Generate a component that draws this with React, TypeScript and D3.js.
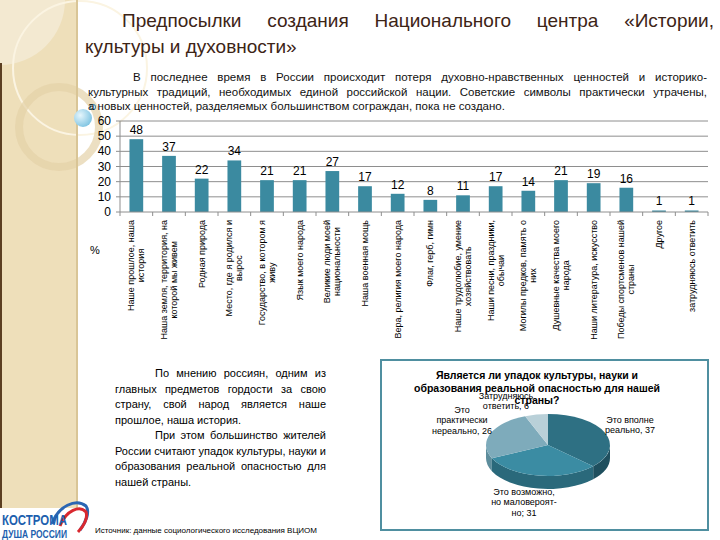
import React, { useLayoutEffect, useRef } from "react";
import * as d3 from "d3";

const categories = [
  "Наше прошлое, наша|история",
  "Наша земля, территория, на|которой мы живем",
  "Родная природа",
  "Место, где я родился и|вырос",
  "Государство, в котором я|живу",
  "Язык моего народа",
  "Великие люди моей|национальности",
  "Наша военная мощь",
  "Вера, религия  моего народа",
  "Флаг, герб, гимн",
  "Наше трудолюбие, умение|хозяйствовать",
  "Наши песни, праздники,|обычаи",
  "Могилы предков, память о|них",
  "Душевные качества моего|народа",
  "Наши литература, искусство",
  "Победы спортсменов нашей|страны",
  "Другое",
  "затрудняюсь ответить",
];
const values = [48, 37, 22, 34, 21, 21, 27, 17, 12, 8, 11, 17, 14, 21, 19, 16, 1, 1];
const yTicks = [0, 10, 20, 30, 40, 50, 60];

const pieLabels = [
  "Это вполне|реально, 37",
  "Это возможно,|но маловероят-|но;  31",
  "Это|практически|нереально, 26",
  "Затрудняюсь|ответить, 6",
];
const pieValues = [37, 31, 26, 6];
const pieTitle = [
  "Является ли упадок культуры, науки и",
  "образования  реальной опасностью для нашей",
  "страны?",
];

const titleLines = ["Предпосылки создания Национального центра «Истории,", "культуры и духовности»"];
const introLines = [
  "В последнее время в России происходит потеря духовно-нравственных ценностей и историко-",
  "культурных традиций, необходимых единой российской нации. Советские символы практически утрачены,",
  "а новых ценностей, разделяемых большинством сограждан, пока не создано.",
];
const noteLines = [
  "По мнению россиян, одним из",
  "главных предметов гордости за свою",
  "страну, свой народ является наше",
  "прошлое, наша история.",
  "При этом большинство жителей",
  "России считают упадок культуры, науки и",
  "образования реальной опасностью для",
  "нашей страны.",
];
const sourceText = "Источник: данные социологического исследования ВЦИОМ";

const FONT = "'Liberation Sans', Arial, sans-serif";

export default function App() {
  const ref = useRef<SVGSVGElement>(null);

  const x = d3.scaleBand<string>().domain(categories).range([120, 708]).paddingInner(0.58).paddingOuter(0.29);
  const y = d3.scaleLinear().domain([0, 60]).range([212, 121]);
  const step = x.step();

  useLayoutEffect(() => {
    const svg = d3.select(ref.current);
    svg.selectAll<SVGTextElement, unknown>("text[data-w]").each(function () {
      const el = this;
      const target = +(el.getAttribute("data-w") || 0);
      const txt = el.textContent || "";
      const spaces = (txt.match(/ /g) || []).length;
      const w = el.getComputedTextLength();
      if (spaces > 0) el.setAttribute("word-spacing", String((target - w) / spaces));
    });
    svg.selectAll<SVGGElement, unknown>("g.catlabel").each(function () {
      const texts = Array.from(this.querySelectorAll("text")) as SVGTextElement[];
      const maxW = d3.max(texts, (t) => t.getComputedTextLength()) || 0;
      texts.forEach((t) => {
        t.setAttribute("text-anchor", "middle");
        t.setAttribute("x", String(-(220 + maxW / 2)));
      });
    });
  }, []);

  const cx = 548, cy = 445, rx = 62, ry = 31, depth = 13;
  const arcs = d3.pie<number>().sort(null)(pieValues);
  const pt = (a: number, dy = 0) => [cx + rx * Math.sin(a), cy - ry * Math.cos(a) + dy];
  const topColors = ["#2e7083", "#3b8ca3", "#7eabbb", "#b9d0d8"];
  const sideColors = ["#1f4f5e", "#2a697b", "#5d8d9c", "#8fb0bb"];
  const topPath = (a0: number, a1: number) => {
    const [x0, y0] = pt(a0);
    const [x1, y1] = pt(a1);
    const large = a1 - a0 > Math.PI ? 1 : 0;
    return `M${cx},${cy}L${x0},${y0}A${rx},${ry} 0 ${large} 1 ${x1},${y1}Z`;
  };
  const sidePath = (a0: number, a1: number) => {
    const s = Math.max(a0, Math.PI / 2);
    const e = Math.min(a1, (3 * Math.PI) / 2);
    if (e <= s) return null;
    const [x0, y0] = pt(s);
    const [x1, y1] = pt(e);
    const [x2, y2] = pt(e, depth);
    const [x3, y3] = pt(s, depth);
    return `M${x0},${y0}A${rx},${ry} 0 0 1 ${x1},${y1}L${x2},${y2}A${rx},${ry} 0 0 0 ${x3},${y3}Z`;
  };
  const pieLabelPos = [
    [630, 425],
    [524, 502],
    [462, 420],
    [506, 401],
  ];

  return (
    <svg ref={ref} width={720} height={540} style={{ position: "absolute", left: 0, top: 0, background: "#fff" }} fontFamily={FONT}>
      <defs>
        <radialGradient id="bub" cx="0.35" cy="0.35" r="0.7">
          <stop offset="0" stopColor="#e6f6fc" />
          <stop offset="1" stopColor="#7fc4e2" />
        </radialGradient>
      </defs>
      <rect x={0} y={0} width={78} height={508} fill="#eedfba" />
      <circle cx={0} cy={0} r={65} fill="#f3e9d1" />
      <circle cx={80} cy={68} r={67} fill="none" stroke="#fbf4e2" strokeWidth={2} />
      <circle cx={59} cy={127} r={40} fill="none" stroke="#e4d2a8" strokeWidth={8} opacity={0.7} />
      <rect x={0} y={63} width={2} height={445} fill="#5b3f22" />
      <rect x={76} y={0} width={2} height={508} fill="#d9c596" />
      <circle cx={83} cy={118} r={9} fill="url(#bub)" />
      <circle cx={93} cy={107} r={2.5} fill="#fff" stroke="#4a8ca0" strokeWidth={1.2} />

      <text x={122} y={27} fontSize={19} fill="#3d2416" data-w={592}>{titleLines[0]}</text>
      <text x={85} y={53} fontSize={19} fill="#3d2416">{titleLines[1]}</text>

      <text x={133} y={81} fontSize={11.5} fill="#111" data-w={574}>{introLines[0]}</text>
      <text x={88} y={95.5} fontSize={11.5} fill="#111" data-w={619}>{introLines[1]}</text>
      <text x={88} y={110} fontSize={11.5} fill="#111">{introLines[2]}</text>

      {yTicks.filter((t) => t > 0).map((t) => (
        <line key={t} x1={120} x2={708} y1={y(t)} y2={y(t)} stroke="#8e8e8e" strokeWidth={1} />
      ))}
      <line x1={120} x2={120} y1={y(60)} y2={y(0)} stroke="#8e8e8e" />
      {yTicks.map((t) => (
        <g key={t}>
          <line x1={116} x2={120} y1={y(t)} y2={y(t)} stroke="#8e8e8e" />
          <text x={111} y={y(t) + 4} textAnchor="end" fontSize={12} fill="#000">{t}</text>
        </g>
      ))}
      {values.map((v, i) => (
        <rect key={i} x={x(categories[i])} y={y(v)} width={x.bandwidth()} height={y(0) - y(v)} fill="#3b8aa0" />
      ))}
      <line x1={120} x2={708} y1={y(0)} y2={y(0)} stroke="#8e8e8e" />
      {d3.range(categories.length + 1).map((i) => (
        <line key={i} x1={120 + i * step} x2={120 + i * step} y1={y(0)} y2={y(0) + 4} stroke="#8e8e8e" />
      ))}
      {values.map((v, i) => (
        <text key={i} x={(x(categories[i]) || 0) + x.bandwidth() / 2} y={y(v) - 5} textAnchor="middle" fontSize={12} fill="#000">{v}</text>
      ))}
      {categories.map((c, i) => {
        const lines = c.split("|");
        const cxb = (x(c) || 0) + x.bandwidth() / 2;
        return (
          <g key={i} className="catlabel" transform={`translate(${cxb},0) rotate(-90)`}>
            {lines.map((l, j) => (
              <text key={j} x={-220} y={(j - (lines.length - 1) / 2) * 10 + 3} textAnchor="end" fontSize={9} fill="#000">{l}</text>
            ))}
          </g>
        );
      })}
      <text x={95} y={254} fontSize={11} fill="#000" textAnchor="middle">%</text>

      {noteLines.map((l, i) => {
        const indent = i === 0 || i === 4;
        const justify = !(i === 3 || i === 7);
        const x0 = indent ? 155 : 115;
        return (
          <text key={i} x={x0} y={377 + i * 15.5} fontSize={11} fill="#000" {...(justify ? { "data-w": 326 - x0 } : {})}>{l}</text>
        );
      })}

      <rect x={381} y={360} width={327} height={170} fill="#fff" stroke="#4f8fa0" strokeWidth={2} />
      {arcs.map((a, i) => {
        const p = sidePath(a.startAngle, a.endAngle);
        return p ? <path key={i} d={p} fill={sideColors[i]} /> : null;
      })}
      {arcs.map((a, i) => (
        <path key={i} d={topPath(a.startAngle, a.endAngle)} fill={topColors[i]} />
      ))}
      {pieTitle.map((l, i) => (
        <text key={i} x={537} y={379 + i * 12.5} textAnchor="middle" fontSize={10.5} fontWeight="bold" fill="#000">{l}</text>
      ))}
      {pieLabels.map((l, i) => {
        const lines = l.split("|");
        const [lx, ly] = pieLabelPos[i];
        return (
          <g key={i}>
            {lines.map((s, j) => (
              <text key={j} x={lx} y={ly + (j - (lines.length - 1) / 2) * 10.5 + 3} textAnchor="middle" fontSize={9} fill="#000">{s}</text>
            ))}
          </g>
        );
      })}

      <text x={95} y={533} fontSize={8} fill="#000">{sourceText}</text>

      <path d="M52,524 C58,506 76,498 86,506 C90,512 86,522 80,530" fill="none" stroke="#2a66b3" strokeWidth={3} />
      <path d="M60,526 C66,510 80,505 86,512 C88,518 84,526 78,532" fill="none" stroke="#d9282f" strokeWidth={3} />
      <text x={2} y={525} fontSize={14} fontWeight="bold" fill="#1d5fae" textLength={65} lengthAdjust="spacingAndGlyphs">КОСТРОМА</text>
      <text x={2} y={538} fontSize={11} fontWeight="bold" fill="#1d5fae" textLength={65} lengthAdjust="spacingAndGlyphs">ДУША РОССИИ</text>
    </svg>
  );
}
